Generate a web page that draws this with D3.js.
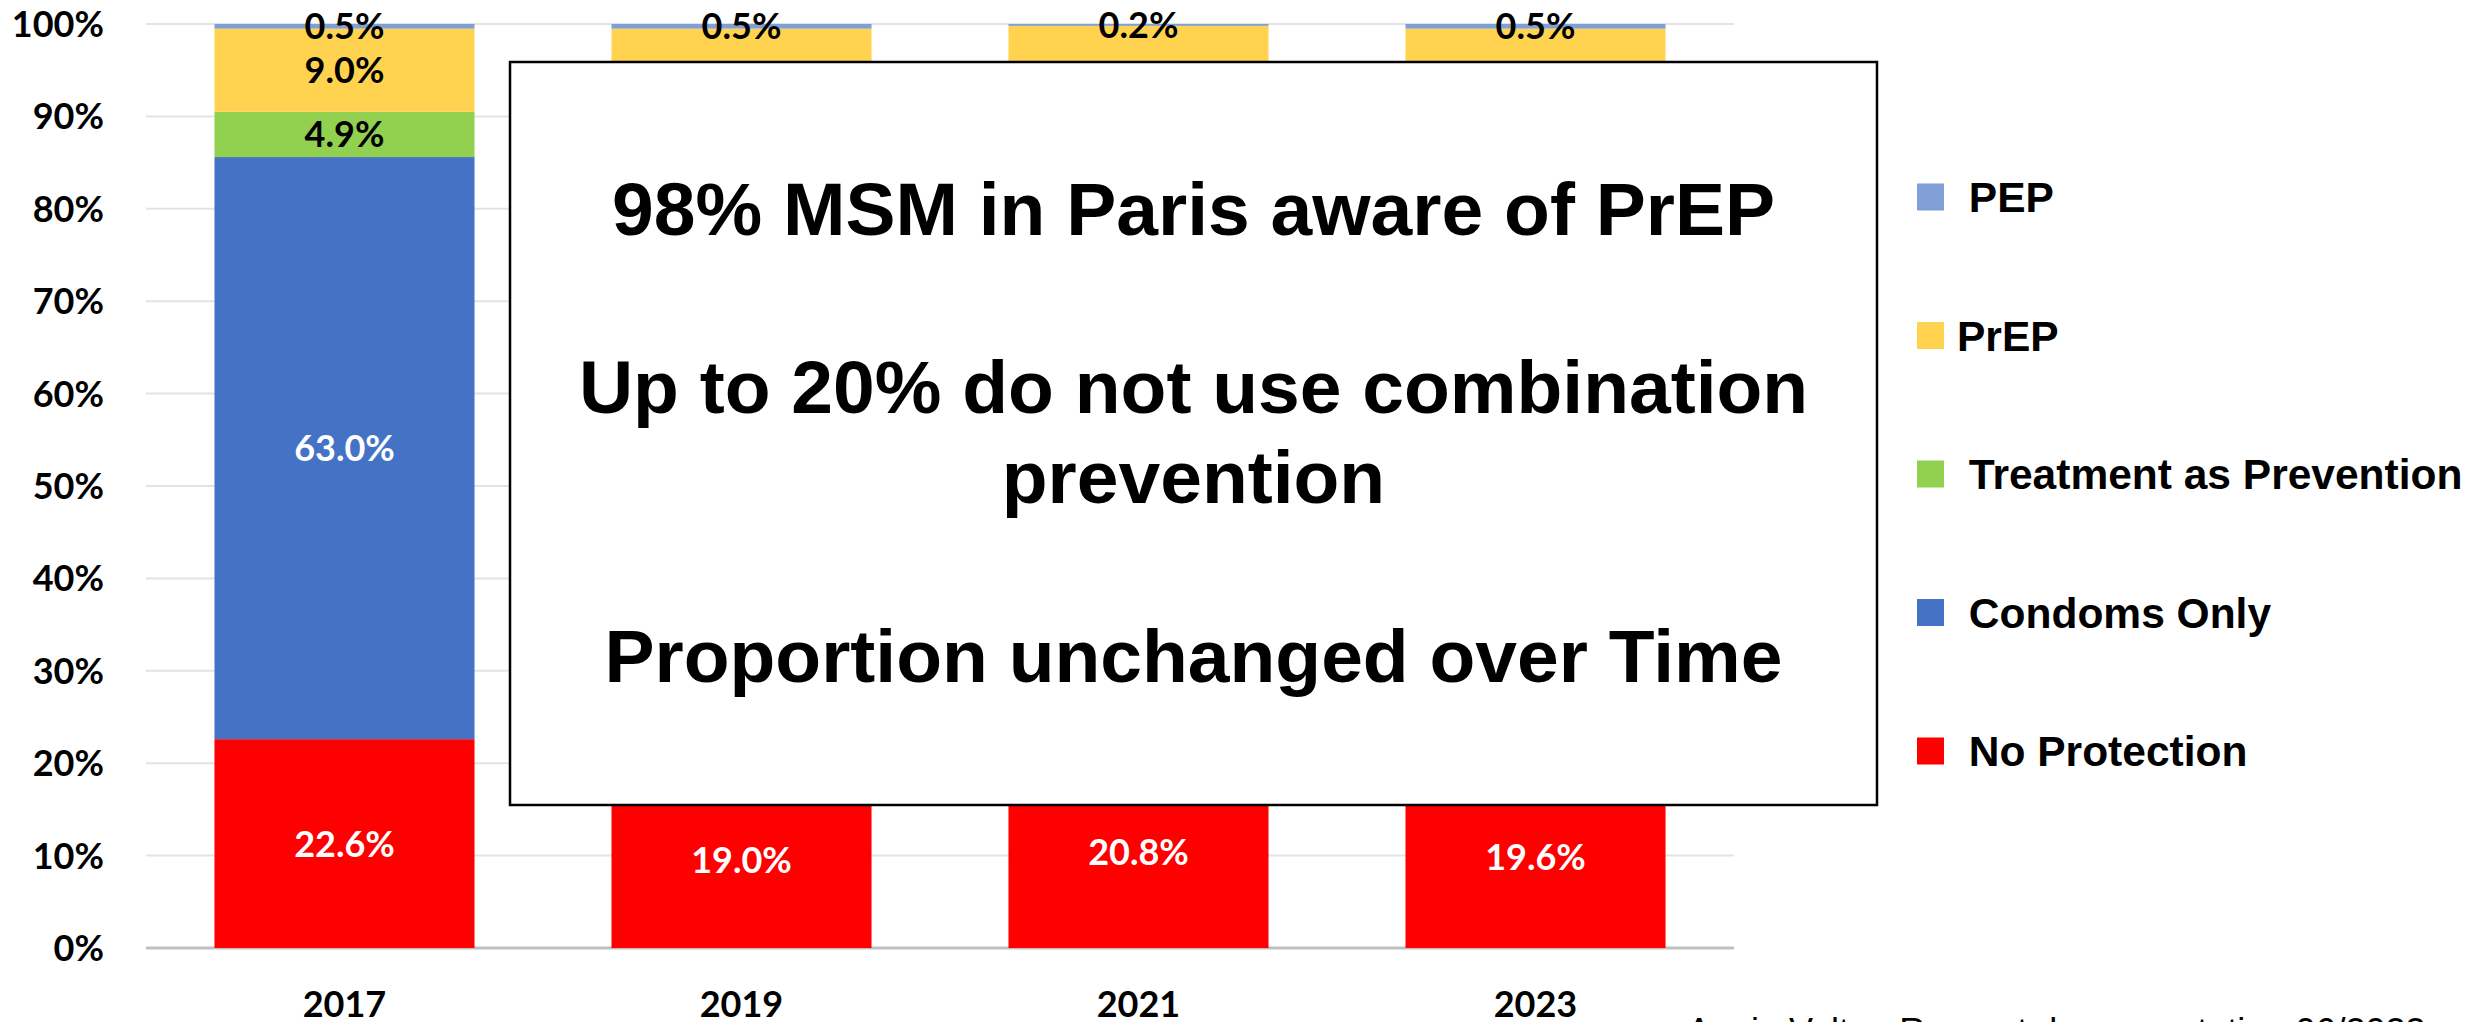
<!DOCTYPE html>
<html>
<head>
<meta charset="utf-8">
<script src="https://cdn.jsdelivr.net/npm/d3@7"></script>
<style>
  body { margin: 0; background: #fff; }
  svg { display: block; }
  .num { font-family: Lato, "Open Sans", sans-serif; font-weight: 700; font-size: 36px; }
  .arial { font-family: "Liberation Sans", Arial, sans-serif; font-weight: 700; }
</style>
</head>
<body>
<svg id="chart" width="2483" height="1022"></svg>
<script>
const years = ["2017", "2019", "2021", "2023"];
const seriesNames = ["No Protection", "Condoms Only", "Treatment as Prevention", "PrEP", "PEP"];
// percent values per year (middle segments of 2019-2023 sit under the text box)
const noProtection = [22.6, 19.0, 20.8, 19.6];
const condomsOnly = [63.0, 48.5, 40.0, 36.0];
const tasp = [4.9, 5.0, 4.5, 4.4];
const prep = [9.0, 27.0, 34.5, 39.5];
const pep = [0.5, 0.5, 0.2, 0.5];
const yTicks = [0, 10, 20, 30, 40, 50, 60, 70, 80, 90, 100];
const legendLabels = [" PEP", "PrEP", " Treatment as Prevention", " Condoms Only", " No Protection"];
const boxLines = ["98% MSM in Paris aware of PrEP", "Up to 20% do not use combination", "prevention", "Proportion unchanged over Time"];
const footer = "Annie Velter, Rapport de presentation 06/2023";

const colors = {
  "No Protection": "#ff0000",
  "Condoms Only": "#4472c4",
  "Treatment as Prevention": "#92d050",
  "PrEP": "#ffd34f",
  "PEP": "#7f9fd6"
};
const labelColors = {
  "No Protection": "#fff",
  "Condoms Only": "#fff",
  "Treatment as Prevention": "#000",
  "PrEP": "#000",
  "PEP": "#000"
};

const rows = years.map((y, i) => ({
  year: y,
  "No Protection": noProtection[i],
  "Condoms Only": condomsOnly[i],
  "Treatment as Prevention": tasp[i],
  "PrEP": prep[i],
  "PEP": pep[i]
}));

const svg = d3.select("#chart");

const x = d3.scaleBand().domain(years).range([146, 1734]).paddingInner(0.345).paddingOuter(0.1725);
const y = d3.scaleLinear().domain([0, 100]).range([948, 24]);

// the callout box that hides the middle of the later bars
const box = { x: 510, y: 62, w: 1367, h: 743 };

// gridlines
svg.append("g")
  .selectAll("line")
  .data(yTicks)
  .enter()
  .append("line")
  .attr("x1", 146)
  .attr("x2", 1734)
  .attr("y1", (d) => y(d))
  .attr("y2", (d) => y(d))
  .attr("stroke", (d) => (d === 0 ? "#bfbfbf" : "#e3e3e3"))
  .attr("stroke-width", (d) => (d === 0 ? 3 : 2));

// y tick labels
svg.append("g")
  .selectAll("text")
  .data(yTicks)
  .enter()
  .append("text")
  .classed("num", true)
  .attr("x", 104)
  .attr("y", (d) => y(d))
  .attr("dy", "0.36em")
  .attr("text-anchor", "end")
  .text((d) => d + "%");

// year labels
svg.append("g")
  .selectAll("text")
  .data(years)
  .enter()
  .append("text")
  .classed("num", true)
  .attr("x", (d) => x(d) + x.bandwidth() / 2)
  .attr("y", 1017)
  .attr("text-anchor", "middle")
  .text((d) => d);

const stacked = d3.stack().keys(seriesNames)(rows);

const layers = svg.append("g")
  .selectAll("g")
  .data(stacked)
  .enter()
  .append("g")
  .attr("fill", (d) => colors[d.key]);

layers.selectAll("rect")
  .data((d) => d)
  .enter()
  .append("rect")
  .attr("x", (d) => x(d.data.year))
  .attr("width", x.bandwidth())
  .attr("y", (d) => y(d[1]))
  .attr("height", (d) => y(d[0]) - y(d[1]));

// value labels (skip the ones that would sit under the box anyway)
const hidden = (d) => {
  const cx = x(d.data.year) + x.bandwidth() / 2;
  const cy = y((d[0] + d[1]) / 2);
  return cx > box.x && cx < box.x + box.w && cy > box.y && cy < box.y + box.h;
};
const labelGroup = svg.append("g");
stacked.forEach((s) => {
  labelGroup.selectAll(null)
    .data(s.filter((d) => !hidden(d)))
    .enter()
    .append("text")
    .classed("num", true)
    .attr("fill", labelColors[s.key])
    .attr("x", (d) => x(d.data.year) + x.bandwidth() / 2)
    .attr("y", (d) => y((d[0] + d[1]) / 2))
    .attr("dy", "0.36em")
    .attr("text-anchor", "middle")
    .text((d) => (d[1] - d[0]).toFixed(1) + "%");
});

svg.append("rect")
  .attr("x", box.x)
  .attr("y", box.y)
  .attr("width", box.w)
  .attr("height", box.h)
  .attr("fill", "#fff")
  .attr("stroke", "#000")
  .attr("stroke-width", 2.5);

const lineY = [235, 413, 503, 682];
svg.append("g")
  .selectAll("text")
  .data(boxLines)
  .enter()
  .append("text")
  .classed("arial", true)
  .attr("font-size", 75)
  .attr("x", box.x + box.w / 2)
  .attr("y", (d, i) => lineY[i])
  .attr("text-anchor", "middle")
  .text((d) => d);

// legend
const legendKeys = seriesNames.slice().reverse();
const ly = d3.scalePoint().domain(legendKeys).range([197, 751]);
const legend = svg.append("g")
  .selectAll("g")
  .data(legendKeys)
  .enter()
  .append("g")
  .attr("transform", (d) => `translate(0,${ly(d)})`);

legend.append("rect")
  .attr("x", 1917)
  .attr("y", -13.5)
  .attr("width", 27)
  .attr("height", 27)
  .attr("fill", (d) => colors[d]);

legend.append("text")
  .classed("arial", true)
  .attr("font-size", 42.5)
  .attr("x", 1957)
  .attr("y", 15)
  .style("white-space", "pre")
  .text((d, i) => legendLabels[i]);

svg.append("text")
  .attr("font-family", "'Liberation Sans', Arial, sans-serif")
  .attr("font-size", 36)
  .attr("x", 1687)
  .attr("y", 1044)
  .text(footer);
</script>
</body>
</html>
